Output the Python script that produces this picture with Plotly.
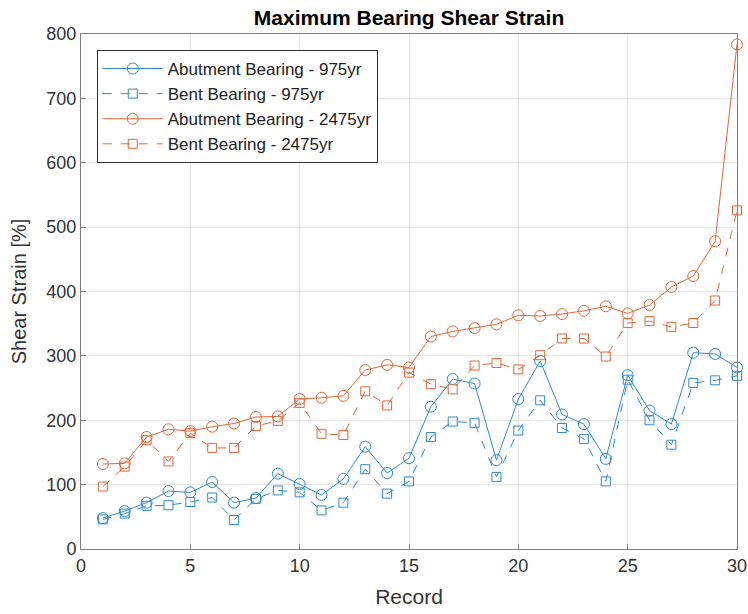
import plotly.graph_objects as go

records = list(range(1, 31))

abut_975 = [48, 59, 72, 90, 88, 104, 72, 79, 117, 101,
            84, 109, 159, 118, 141, 221, 264, 257, 138, 233,
            292, 209, 194, 140, 270, 215, 194, 305, 303, 282]
bent_975 = [46, 55, 67, 68, 73, 80, 45, 78, 91, 88,
            60, 72, 124, 86, 105, 174, 198, 196, 112, 184,
            231, 188, 171, 105, 263, 200, 162, 258, 262, 269]
abut_2475 = [132, 133, 174, 186, 183, 190, 195, 205, 206, 233,
             235, 238, 278, 286, 282, 330, 338, 343, 349, 363,
             362, 365, 370, 377, 366, 379, 407, 424, 478, 784]
bent_2475 = [97, 128, 169, 136, 180, 157, 157, 191, 199, 227,
             179, 177, 245, 223, 274, 256, 248, 285, 289, 279,
             301, 327, 327, 299, 351, 354, 345, 351, 386, 526]

x_ticks = [0, 5, 10, 15, 20, 25, 30]
y_ticks = [0, 100, 200, 300, 400, 500, 600, 700, 800]

BLUE = "#2F8AD0"
ORANGE = "#E0673A"
FONT = "Liberation Sans, Arial, sans-serif"

fig = go.Figure()
series = [
    ("Abutment Bearing - 975yr", abut_975, BLUE, "solid", "circle-open", 11),
    ("Bent Bearing - 975yr", bent_975, BLUE, "dash", "square-open", 9),
    ("Abutment Bearing - 2475yr", abut_2475, ORANGE, "solid", "circle-open", 11),
    ("Bent Bearing - 2475yr", bent_2475, ORANGE, "dash", "square-open", 9),
]
for name, vals, col, dash, sym, sz in series:
    fig.add_trace(go.Scatter(
        x=records, y=vals, name=name, mode="lines+markers",
        line=dict(color=col, width=1, dash=dash),
        marker=dict(symbol=sym, size=sz, color=col, line=dict(width=1, color=col)),
        cliponaxis=False,
    ))

axis_common = dict(
    showgrid=True, gridcolor="#E6E6E6", gridwidth=1,
    showline=True, linecolor="#808080", linewidth=1, mirror=True,
    ticks="inside", ticklen=5, tickcolor="#808080",
    tickfont=dict(family=FONT, size=18, color="#333333"),
    zeroline=False, automargin=False,
)

fig.update_layout(
    width=748, height=614,
    margin=dict(l=81, r=11, t=34, b=65),
    paper_bgcolor="white", plot_bgcolor="white",
    font=dict(family=FONT, color="#333333"),
    title=dict(text="<b>Maximum Bearing Shear Strain</b>", x=(81 + 737) / 2 / 748, xanchor="center",
               y=1 - 18 / 614, yanchor="middle",
               font=dict(family=FONT, size=21, color="#000000")),
    xaxis=dict(range=[0, 30], tickvals=x_ticks,
               title=dict(text="Record", font=dict(family=FONT, size=21, color="#333333"), standoff=14),
               **axis_common),
    yaxis=dict(range=[0, 800], tickvals=y_ticks,
               title=dict(text="Shear Strain [%]", font=dict(family=FONT, size=20, color="#333333"), standoff=14),
               **axis_common),
    legend=dict(x=0.024, y=0.969, xanchor="left", yanchor="top",
                bgcolor="white", bordercolor="#333333", borderwidth=1,
                font=dict(family=FONT, size=17, color="#222222"),
                tracegroupgap=0, itemwidth=60),
    showlegend=True,
)

fig.write_html("out.html")
